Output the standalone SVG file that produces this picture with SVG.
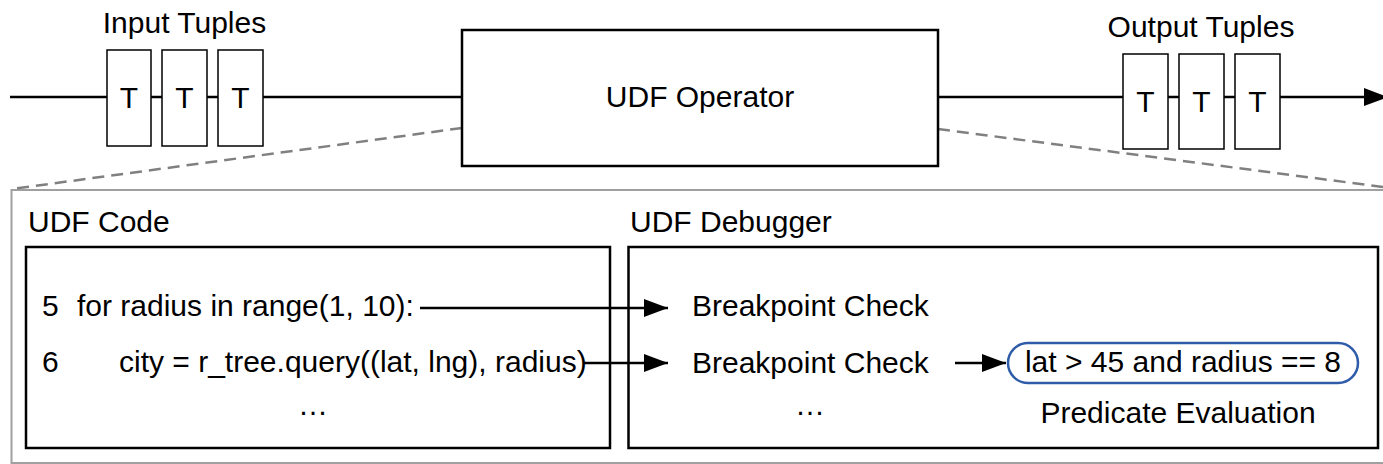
<svg xmlns="http://www.w3.org/2000/svg" width="1383" height="464" viewBox="0 0 1383 464">
  <defs>
    <style>
      text { font-family: "Liberation Sans", Arial, sans-serif; font-size: 30px; fill: #000; }
      .mid { text-anchor: middle; }
      .box { fill: none; stroke: #000; stroke-width: 2.5; }
      .tuple { fill: #fff; stroke: #000; stroke-width: 1.5; }
      .flow { stroke: #000; stroke-width: 2.5; fill: none; }
      .zoom { stroke: #808080; stroke-width: 2.5; stroke-dasharray: 12 7; fill: none; }
    </style>
    <marker id="arrow" markerUnits="userSpaceOnUse" markerWidth="26" markerHeight="20" refX="24" refY="9" orient="auto">
      <path d="M0,0 L24,9 L0,18 Z" fill="#000"/>
    </marker>
  </defs>
  <rect width="1383" height="464" fill="#fff"/>

  <!-- zoom-out frame and the dashed guides to the operator -->
  <g id="detail-frame">
    <rect x="11.5" y="190" width="1390" height="273" fill="none" stroke="#a0a0a0" stroke-width="2"/>
    <line class="zoom" x1="462" y1="128" x2="12" y2="189"/>
    <line class="zoom" x1="938" y1="129" x2="1383" y2="187"/>
  </g>

  <!-- connectors -->
  <g id="connectors">
    <line class="flow" x1="10" y1="97" x2="462" y2="97"/>
    <line class="flow" x1="938" y1="97" x2="1388" y2="97" marker-end="url(#arrow)"/>
    <line class="flow" x1="420" y1="308" x2="668" y2="308" stroke-width="2" marker-end="url(#arrow)"/>
    <line class="flow" x1="584" y1="363" x2="668" y2="363" stroke-width="2" marker-end="url(#arrow)"/>
    <line class="flow" x1="955" y1="363" x2="1006" y2="363" stroke-width="2" marker-end="url(#arrow)"/>
  </g>

  <g id="input-tuples">
    <text class="mid" x="184.5" y="33">Input Tuples</text>
    <rect class="tuple" x="107" y="50" width="44" height="96"/>
    <rect class="tuple" x="162" y="50" width="45" height="96"/>
    <rect class="tuple" x="218" y="50" width="45" height="96"/>
    <text class="mid" x="129" y="108">T</text>
    <text class="mid" x="184.5" y="108">T</text>
    <text class="mid" x="240.5" y="108">T</text>
  </g>

  <g id="udf-operator">
    <rect class="box" x="462" y="30" width="476" height="136" fill="#fff" style="fill:#fff"/>
    <text class="mid" x="700" y="107">UDF Operator</text>
  </g>

  <g id="output-tuples">
    <text class="mid" x="1201" y="37">Output Tuples</text>
    <rect class="tuple" x="1123" y="54" width="45" height="95"/>
    <rect class="tuple" x="1179" y="54" width="45" height="95"/>
    <rect class="tuple" x="1235" y="54" width="45" height="95"/>
    <text class="mid" x="1145.5" y="112">T</text>
    <text class="mid" x="1201.5" y="112">T</text>
    <text class="mid" x="1257.5" y="112">T</text>
  </g>

  <g id="udf-code">
    <text x="28" y="232">UDF Code</text>
    <rect class="box" x="26" y="247" width="584" height="201"/>
    <text x="42" y="316">5</text>
    <text x="77" y="316">for radius in range(1, 10):</text>
    <text x="42" y="372">6</text>
    <text x="119" y="372">city = r_tree.query((lat, lng), radius)</text>
    <text class="mid" x="313" y="415">…</text>
  </g>

  <g id="udf-debugger">
    <text x="630" y="232">UDF Debugger</text>
    <rect class="box" x="628.5" y="247" width="749.5" height="201"/>
    <text x="692" y="316">Breakpoint Check</text>
    <text x="692" y="373">Breakpoint Check</text>
    <text class="mid" x="810" y="415">…</text>
  </g>

  <g id="predicate">
    <rect x="1008" y="343" width="350" height="40" rx="20" ry="20" fill="#fff" stroke="#2e5ca8" stroke-width="2.5"/>
    <text class="mid" x="1183" y="372">lat &gt; 45 and radius == 8</text>
    <text class="mid" x="1178" y="423">Predicate Evaluation</text>
  </g>
</svg>
